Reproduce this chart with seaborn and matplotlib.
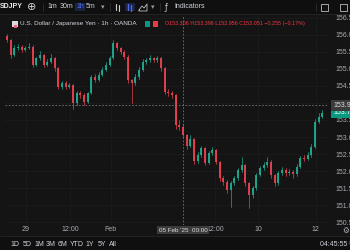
import matplotlib
matplotlib.use("Agg")
import matplotlib.pyplot as plt
import matplotlib.transforms as mtransforms
from matplotlib.patches import Rectangle
from matplotlib.lines import Line2D
import numpy as np
import pandas as pd
import seaborn as sns

# ---------------- data ----------------
first_open = 155.98
closes = [155.85, 155.41, 155.61, 155.66, 155.56, 155.61, 155.66, 155.12, 155.31, 155.41,
          155.12, 155.22, 155.31, 155.02, 154.48, 154.58, 154.48, 154.53, 153.99, 154.28,
          154.24, 154.04, 154.28, 154.77, 154.68, 154.82, 154.97, 155.12, 155.31, 155.75,
          155.61, 155.51, 155.36, 154.68, 154.58, 154.77, 154.97, 155.22, 155.26, 155.31,
          155.26, 155.31, 155.02, 154.33, 154.28, 154.24, 153.35, 153.306, 153.051, 152.75,
          152.95, 152.30, 152.47, 152.67, 152.25, 152.52, 152.62, 152.27, 151.78, 151.69,
          151.44, 151.64, 151.78, 152.03, 152.18, 151.64, 151.29, 151.49, 151.88, 152.08,
          152.18, 152.27, 151.88, 151.64, 151.93, 152.03, 151.93, 151.98, 151.90, 152.13,
          152.37, 152.35, 152.47, 152.72, 153.45, 153.60, 153.72]
highs = [156.02, 155.88, 155.70, 155.74, 155.70, 155.68, 155.75, 155.70, 155.36, 155.52,
         155.45, 155.30, 155.45, 155.36, 155.06, 154.66, 154.64, 154.60, 154.56, 154.36,
         154.34, 154.29, 154.33, 154.82, 154.85, 154.90, 155.05, 155.20, 155.38, 155.86,
         155.80, 155.66, 155.56, 155.40, 154.72, 154.85, 155.05, 155.30, 155.33, 155.42,
         155.36, 155.38, 155.35, 155.05, 154.40, 154.36, 154.27, 153.50, 153.396, 153.10,
         153.06, 152.98, 152.55, 152.75, 152.70, 152.58, 152.70, 152.66, 152.30, 151.84,
         151.74, 151.70, 151.86, 152.10, 152.42, 152.22, 151.68, 151.56, 151.95, 152.16,
         152.26, 152.42, 152.32, 151.92, 152.00, 152.12, 152.08, 152.06, 152.04, 152.20,
         152.45, 152.46, 152.55, 152.80, 153.52, 153.70, 153.80]
lows = [155.78, 155.33, 155.38, 155.55, 155.50, 155.52, 155.58, 155.05, 155.08, 155.27,
        155.06, 155.08, 155.18, 154.95, 154.40, 154.42, 154.41, 154.44, 153.82, 153.94,
        154.15, 153.95, 154.00, 154.25, 154.62, 154.64, 154.78, 154.93, 155.08, 155.28,
        155.55, 155.44, 155.30, 154.60, 153.99, 154.52, 154.72, 154.93, 155.16, 155.20,
        155.20, 155.21, 154.95, 154.25, 154.22, 154.15, 153.25, 153.20, 152.956, 152.66,
        152.70, 152.22, 152.25, 152.42, 152.18, 152.20, 152.48, 152.20, 151.70, 151.58,
        151.36, 150.95, 151.58, 151.74, 151.98, 151.56, 150.90, 151.22, 151.45, 151.84,
        152.02, 152.12, 151.80, 151.55, 151.60, 151.88, 151.86, 151.88, 151.80, 151.86,
        152.10, 152.30, 152.32, 152.42, 152.68, 153.40, 153.56]

price_ticks = [150.5, 151.0, 151.5, 152.0, 152.5, 153.0, 153.5, 154.0, 154.5, 155.0, 155.5, 156.0, 156.5]
hidden_price_ticks = [154.0]          # covered by the crosshair label in the reference
time_tick_pos = [5.2, 17.2, 28.3, 56.7, 68.4, 84.2]
time_tick_labels = ["29", "12:00", "Feb", "12:00", "10", "12"]
cross_idx = 48
cross_price = 153.93
cross_time_label = "05 Feb '25  00:00"
cross_price_label = "153.930"
legend_title = "U.S. Dollar / Japanese Yen · 1h · OANDA"
legend_ohlc = "O153.306 H153.396 L152.956 C153.051 −0.255 (−0.17%)"
range_buttons = ["1D", "5D", "1M", "3M", "6M", "YTD", "1Y", "5Y", "All"]
range_x = [15, 27, 39, 51, 63, 77, 90, 102, 113]
clock_text = "04:45:55 UTC"

# ---------------- build long tables ----------------
opens = [first_open] + closes[:-1]
rows_w, rows_b = [], []
for i, (o, c, h, l) in enumerate(zip(opens, closes, highs, lows)):
    d = "up" if c >= o else "down"
    rows_w += [(i, l, d), (i, h, d)]
    rows_b += [(i, min(o, c), d), (i, max(o, c), d)]
wicks = pd.DataFrame(rows_w, columns=["i", "price", "dir"])
bodies = pd.DataFrame(rows_b, columns=["i", "price", "dir"])

UP, DOWN = "#089981", "#f23645"
pal = {"up": "#1fa98f", "down": "#e8404f"}
BG = "#141414"
BAR = "#0f0f0f"
TXT = "#a8abb3"

sns.set_theme(style="dark", rc={"axes.facecolor": BG, "figure.facecolor": BG})
plt.rcParams["font.family"] = ["Liberation Sans", "DejaVu Sans"]

W, H = 350, 250
fig = plt.figure(figsize=(3.5, 2.5), dpi=100)
fig.patch.set_facecolor(BG)

def fx(px):
    return px / W

def fy(py):
    return 1 - py / H

ax_top, ax_bot, ax_left, ax_right = 15, 225, 5, 328
ax = fig.add_axes([fx(ax_left), fy(ax_bot), (ax_right - ax_left) / W, (ax_bot - ax_top) / H])
ax.set_facecolor(BG)

sns.lineplot(data=wicks, x="i", y="price", units="i", estimator=None, hue="dir",
             palette=pal, linewidth=0.5, legend=False, sort=False, ax=ax)
sns.lineplot(data=bodies, x="i", y="price", units="i", estimator=None, hue="dir",
             palette=pal, linewidth=1.35, legend=False, sort=False, ax=ax,
             solid_capstyle="butt")

# scales: 34 px per 1.0 price, 3.67 px per candle
ax.set_ylim(150.412, 156.588)
ax.set_xlim(-0.545, 87.5)
ax.set_xlabel("")
ax.set_ylabel("")
for s in ax.spines.values():
    s.set_visible(False)

ax.yaxis.tick_right()
ax.set_yticks(price_ticks)
ax.set_yticklabels(["" if p in hidden_price_ticks else f"{p:.3f}" for p in price_ticks])
ax.tick_params(axis="y", length=0, pad=5.5, labelsize=5, labelcolor=TXT)
ax.set_xticks(time_tick_pos)
ax.set_xticklabels(time_tick_labels)
ax.tick_params(axis="x", length=0, pad=0.8, labelsize=5, labelcolor=TXT)
ax.grid(True, color="#1c1c1c", linewidth=0.6)

# crosshair
ax.axvline(cross_idx, color="#767676", linewidth=0.6, linestyle=(0, (2, 2)))
ax.axhline(cross_price, color="#767676", linewidth=0.6, linestyle=(0, (2, 2)))

blend_y = mtransforms.blended_transform_factory(ax.transAxes, ax.transData)
blend_x = mtransforms.blended_transform_factory(ax.transData, ax.transAxes)
xr = 1 + (333 - ax_right) / (ax_right - ax_left)
ax.text(xr, cross_price, cross_price_label, transform=blend_y, ha="left", va="center",
        fontsize=5, color="#e0e0e0", clip_on=False, zorder=6,
        bbox=dict(boxstyle="square,pad=0.25", fc="#3b3b3b", ec="none"))
ax.text(xr, closes[-1], f"{closes[-1]:.3f}", transform=blend_y, ha="left", va="center",
        fontsize=5, color="white", clip_on=False, zorder=5,
        bbox=dict(boxstyle="square,pad=0.25", fc=UP, ec="none"))
ax.text(cross_idx, -(230 - ax_bot) / (ax_bot - ax_top), cross_time_label, transform=blend_x,
        ha="center", va="center", fontsize=4.5, color="#e0e0e0", clip_on=False,
        bbox=dict(boxstyle="square,pad=0.3", fc="#3b3b3b", ec="none"))

# ---------------- top toolbar ----------------
fig.patches.append(Rectangle((0, fy(14)), 1, 14 / H, transform=fig.transFigure,
                             fc=BAR, ec="none", zorder=0))
fig.add_artist(Line2D([0, 1], [fy(14), fy(14)], color="#262626", lw=0.6))
fig.text(fx(0), fy(7), "SDJPY", fontsize=5, color="#e8e8e8", fontweight="bold", va="center")
fig.text(fx(32), fy(7.5), "⊕", fontsize=8, color="#cfcfcf", va="center", ha="center",
         family="DejaVu Sans")
for sx in [43, 110, 160, 316]:
    fig.add_artist(Line2D([fx(sx), fx(sx)], [fy(3), fy(11)], color="#2c2c2c", lw=0.6))
for lab, x in [("1m", 52), ("30m", 67), ("5m", 91)]:
    fig.text(fx(x), fy(7), lab, fontsize=5, color="#d1d4dc", va="center", ha="center")
fig.patches.append(Rectangle((fx(75), fy(11)), 10 / W, 8 / H, transform=fig.transFigure,
                             fc="#1c2340", ec="none"))
fig.text(fx(80), fy(7), "1h", fontsize=5, color="#4a6cf7", va="center", ha="center")
fig.text(fx(103), fy(7), "▾", fontsize=5, color="#9a9a9a", va="center", ha="center",
         family="DejaVu Sans")
# chart-type icons
for bx, by0, by1 in [(116, 4, 10), (119, 5, 11)]:
    fig.add_artist(Line2D([fx(bx), fx(bx)], [fy(by0), fy(by1)], color="#cfcfcf", lw=0.8))
fig.patches.append(Rectangle((fx(125), fy(11)), 10 / W, 8 / H, transform=fig.transFigure,
                             fc="#1c2340", ec="none"))
for bx, by0, by1 in [(128, 4, 10), (131, 5, 11)]:
    fig.add_artist(Line2D([fx(bx), fx(bx)], [fy(by0), fy(by1)], color="#4a6cf7", lw=1.0))
fig.add_artist(Line2D([fx(139), fx(142), fx(144), fx(147), fx(147), fx(139), fx(139)],
                      [fy(10), fy(6), fy(8), fy(4), fy(11), fy(11), fy(10)],
                      color="#bdbdbd", lw=0.6))
fig.text(fx(153), fy(7), "▾", fontsize=5, color="#9a9a9a", va="center", ha="center",
         family="DejaVu Sans")
fig.text(fx(166), fy(7), "ƒ", fontsize=5.5, color="#cfcfcf", va="center", ha="center",
         family="DejaVu Sans")
fig.text(fx(174), fy(7), "Indicators", fontsize=5, color="#d1d4dc", va="center", ha="left")
fig.patches.append(Rectangle((fx(321), fy(11)), 7 / W, 7 / H, transform=fig.transFigure,
                             fc="none", ec="#bdbdbd", lw=0.6))
fig.patches.append(Rectangle((fx(340), fy(11)), 7 / W, 7 / H, transform=fig.transFigure,
                             fc="none", ec="#bdbdbd", lw=0.6))

# ---------------- legend row ----------------
fig.patches.append(Rectangle((fx(12), fy(27)), 6 / W, 6 / H, transform=fig.transFigure,
                             fc="#d9d9d9", ec="none"))
fig.patches.append(Rectangle((fx(14), fy(28)), 3 / W, 3 / H, transform=fig.transFigure,
                             fc="#e2607a", ec="none"))
fig.text(fx(20), fy(24), legend_title, fontsize=4.6, color="#d1d4dc", va="center", ha="left")
fig.patches.append(Rectangle((fx(145), fy(26.5)), 5 / W, 5 / H, transform=fig.transFigure,
                             fc=UP, ec="none"))
fig.patches.append(Rectangle((fx(153), fy(26.5)), 5 / W, 5 / H, transform=fig.transFigure,
                             fc=DOWN, ec="none"))
fig.text(fx(165), fy(24), legend_ohlc, fontsize=3.9, color=DOWN, va="center", ha="left")

# ---------------- bottom bar ----------------
fig.patches.append(Rectangle((0, 0), 1, 14 / H, transform=fig.transFigure,
                             fc=BAR, ec="none", zorder=0))
fig.add_artist(Line2D([0, 1], [fy(236), fy(236)], color="#262626", lw=0.6))
for lab, x in zip(range_buttons, range_x):
    fig.text(fx(x), fy(244), lab, fontsize=5, color="#d1d4dc", va="center", ha="center")
fig.text(fx(320), fy(244), clock_text, fontsize=5, color="#d1d4dc", va="center", ha="left")
fig.text(fx(346), fy(230), "⚙", fontsize=5.5, color="#b2b5be", va="center", ha="center",
         family="DejaVu Sans")

fig.savefig("out.png", dpi=100, facecolor=BG)
